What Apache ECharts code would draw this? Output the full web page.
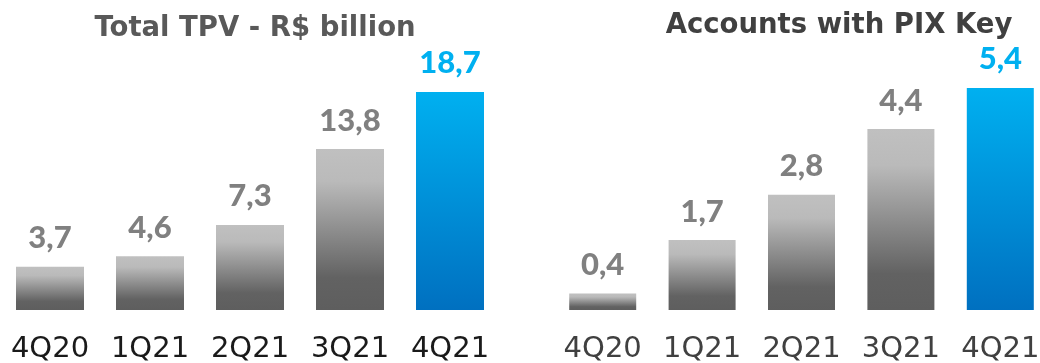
<!DOCTYPE html>
<html><head><meta charset="utf-8">
<script src="https://cdn.jsdelivr.net/npm/echarts@6/dist/echarts.min.js"></script>
<style>html,body{margin:0;padding:0;background:#fff}#c{width:1040px;height:363px}</style>
</head><body><div id="c"></div>
<script>
const categories = ['4Q20','1Q21','2Q21','3Q21','4Q21'];
const tpvValues = [3.7, 4.6, 7.3, 13.8, 18.7];
const pixValues = [0.4, 1.7, 2.8, 4.4, 5.4];
const tpvTitle = 'Total TPV - R$ billion';
const pixTitle = 'Accounts with PIX Key';

const FONT = 'DejaVu Sans';
const grey = new echarts.graphic.LinearGradient(0,0,0,1,[
  {offset:0,color:'#c0c0c0'},{offset:0.2,color:'#bababa'},{offset:0.8,color:'#626262'},{offset:1,color:'#5e5e5e'}]);
const blue = new echarts.graphic.LinearGradient(0,0,0,1,[
  {offset:0,color:'#00b0f0'},{offset:1,color:'#0070c0'}]);
function mk(vals){
  return vals.map((v,i)=>({value:v,
    itemStyle:{color: i===vals.length-1?blue:grey},
    label:{color: i===vals.length-1?'#00b0f0':'#808080'}}));
}
const lbl = {show:true,position:'top',distance:13,fontFamily:'Lato',fontWeight:900,fontSize:31,
  formatter:p=>String(p.value).replace('.',',')};
const chart = echarts.init(document.getElementById('c'));
chart.setOption({
  animation:false,
  title:[
    {text:tpvTitle,left:250,top:10,textAlign:'center',textStyle:{fontFamily:FONT,fontWeight:'bold',fontSize:27.5,color:'#595959'}},
    {text:pixTitle,left:834,top:7,textAlign:'center',textStyle:{fontFamily:FONT,fontWeight:'bold',fontSize:27.5,color:'#404040'}}
  ],
  grid:[
    {left:0,width:500,top:76.8,bottom:53,outerBoundsMode:'none',containLabel:false},
    {left:553,width:497,top:63.3,bottom:53,outerBoundsMode:'none',containLabel:false}
  ],
  xAxis:[0,1].map(g=>({type:'category',gridIndex:g,data:categories,
    axisLine:{show:false},axisTick:{show:false},
    axisLabel:{interval:0,hideOverlap:false,fontFamily:FONT,fontSize:29,color:g===0?'#1a1a1a':'#404040',margin:25}})),
  yAxis:[
    {type:'value',gridIndex:0,min:0,max:20,show:false},
    {type:'value',gridIndex:1,min:0,max:6,show:false}
  ],
  series:[
    {type:'bar',xAxisIndex:0,yAxisIndex:0,barWidth:68,data:mk(tpvValues),label:lbl},
    {type:'bar',xAxisIndex:1,yAxisIndex:1,barWidth:67,data:mk(pixValues),label:lbl}
  ]
});
</script></body></html>
